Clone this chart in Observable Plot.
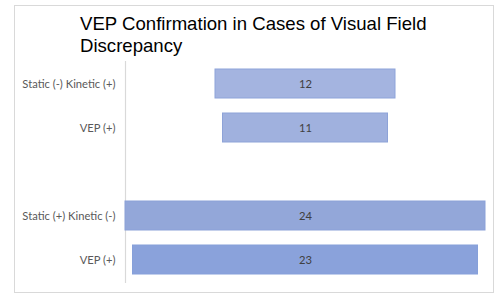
<!DOCTYPE html>
<html>
<head>
<meta charset="utf-8">
<script src="https://cdn.jsdelivr.net/npm/d3@7"></script>
<script src="https://cdn.jsdelivr.net/npm/@observablehq/plot@0.6"></script>
<style>
  html, body { margin: 0; padding: 0; background: #fff; }
  #wrap { position: relative; width: 502px; height: 296px; overflow: hidden; }
  #frame { position: absolute; left: 14px; top: 5px; width: 478px; height: 286px; border: 1px solid #d9d9d9; box-sizing: content-box; }
  #title { position: absolute; left: 80px; top: 13px; font-family: "Liberation Sans", Arial, sans-serif; font-size: 18.6px; line-height: 21.5px; color: #000; }
  #chart { position: absolute; left: 0; top: 0; }
</style>
</head>
<body>
<div id="wrap">
  <div id="frame"></div>
  <div id="chart"></div>
  <div id="title">VEP Confirmation in Cases of Visual Field<br>Discrepancy</div>
</div>
<script>
const ids = ["s1", "v1", "gap", "s2", "v2"];
const labels = ["Static (-) Kinetic (+)", "VEP (+)", "", "Static (+) Kinetic (-)", "VEP (+)"];
const barIds = ["s1", "v1", "s2", "v2"];
const values = [12, 11, 24, 23];
const fills = ["#a4b4e0", "#a0b1de", "#93a7d9", "#8aa2db"];
const strokes = ["#8ea4da", "#8ea3d8", "#8ba1d8", "#86a0da"];

const data = barIds.map((id, i) => ({id, v: values[i], fill: fills[i], stroke: strokes[i]}));
const labelOf = new Map(ids.map((d, i) => [d, labels[i]]));

const chart = Plot.plot({
  width: 502,
  height: 296,
  marginLeft: 125,
  marginRight: 17,
  marginTop: 61,
  marginBottom: 13,
  style: {background: "transparent", fontFamily: "Lato, 'Open Sans', sans-serif", fontSize: "11.2px"},
  x: {domain: [-12, 12], axis: null},
  y: {domain: ids, paddingInner: 0.334, paddingOuter: 0.173, axis: null, label: null},
  marks: [
    Plot.ruleX([-12], {stroke: "#d9d9d9", strokeWidth: 1.2}),
    Plot.axisY({
      label: null,
      tickSize: 0,
      tickPadding: 10,
      tickFormat: d => labelOf.get(d),
      fill: "#595959",
      fontSize: 11.2
    }),
    Plot.barX(data, {
      y: "id",
      x1: d => -d.v / 2,
      x2: d => d.v / 2,
      fill: d => d.fill,
      stroke: d => d.stroke,
      strokeWidth: 1
    }),
    Plot.text(data, {
      y: "id",
      x: () => 0,
      text: d => String(d.v),
      fill: "#404040",
      fontSize: 11.2
    })
  ]
});
document.getElementById("chart").appendChild(chart);
</script>
</body>
</html>
